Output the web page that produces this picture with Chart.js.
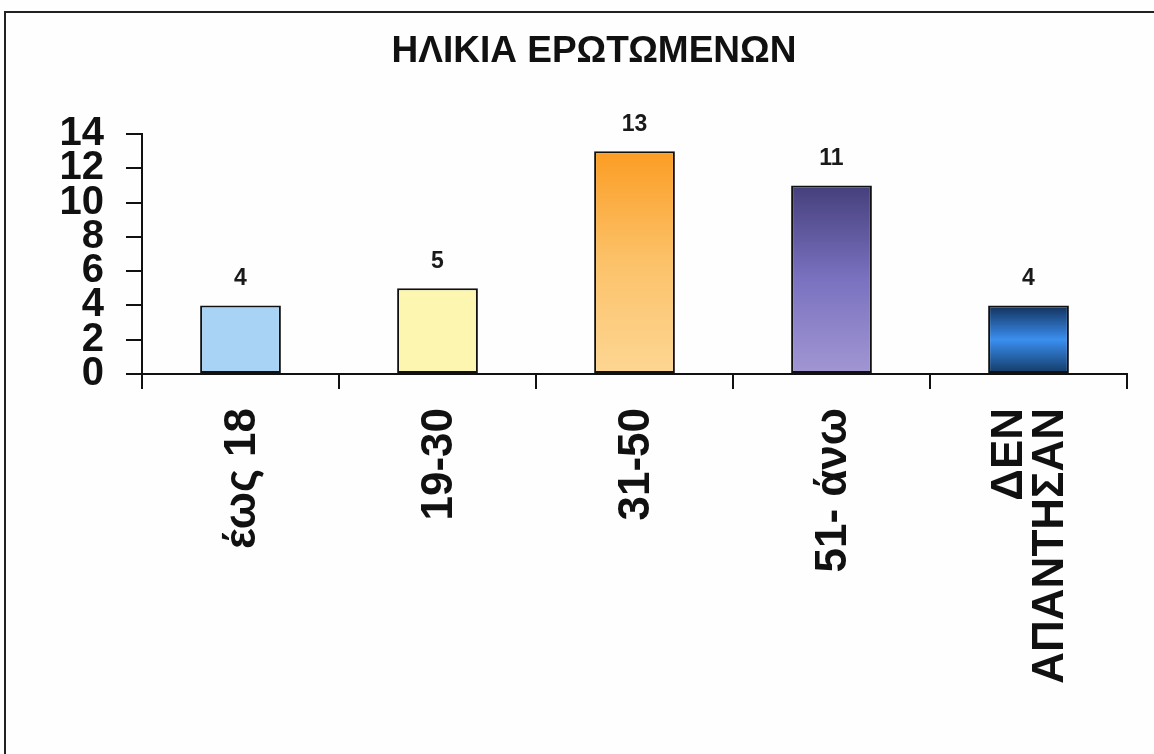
<!DOCTYPE html>
<html>
<head>
<meta charset="utf-8">
<script src="https://cdn.jsdelivr.net/npm/chart.js@4"></script>
<style>
  html, body { margin: 0; padding: 0; background: #fdfefd; overflow: hidden; }
  #wrap { position: absolute; left: 0; top: 0; width: 1154px; height: 754px; }
</style>
</head>
<body>
<div id="wrap"><canvas id="ageChart" width="1154" height="754"></canvas></div>
<script>
// ── Data ─────────────────────────────────────────
const categories = ['έως 18', '19-30', '31-50', '51- άνω', ['ΔΕΝ', 'ΑΠΑΝΤΗΣΑΝ']];
const answers = [4, 5, 13, 11, 4];
const yTicks = [0, 2, 4, 6, 8, 10, 12, 14];
const chartTitle = 'ΗΛΙΚΙΑ ΕΡΩΤΩΜΕΝΩΝ';

const FONT = '"Liberation Sans", Arial, sans-serif';

// gradient stops per bar, top -> bottom
const barStops = [
    ['#a9d3f4', '#a9d3f4'],
    ['#fcf6b0', '#fcf6b0'],
    ['#fb9d24', '#fcc26a', '#fdd693'],
    ['#463f7c', '#7a72c0', '#a296d2'],
    ['#12305a', '#3a8ff0', '#123862']
];

function barFill(ctx) {
    const chart = ctx.chart;
    const y = chart.scales.y;
    const stops = barStops[ctx.dataIndex] || barStops[0];
    if (!y) return stops[0];
    const top = y.getPixelForValue(answers[ctx.dataIndex]);
    const bottom = y.getPixelForValue(0);
    if (!isFinite(top) || !isFinite(bottom) || top === bottom) return stops[0];
    const g = chart.ctx.createLinearGradient(0, top, 0, bottom);
    stops.forEach((c, i) => g.addColorStop(i / (stops.length - 1), c));
    return g;
}

// ── Frame, title, value labels, rotated category labels ──
const decorations = {
    id: 'decorations',
    beforeDraw(chart) {
        const c = chart.ctx;
        c.save();
        c.strokeStyle = '#222';
        c.lineWidth = 2;
        c.beginPath();
        c.moveTo(1154, 12);
        c.lineTo(5, 12);
        c.lineTo(5, 754);
        c.stroke();

        c.font = 'bold 37px ' + FONT;
        c.fillStyle = '#111';
        c.textAlign = 'center';
        c.textBaseline = 'middle';
        c.fillText(chartTitle, 594, 52);
        c.restore();
    },
    afterDatasetsDraw(chart) {
        const c = chart.ctx;
        const meta = chart.getDatasetMeta(0);
        c.save();
        c.font = 'bold 23px ' + FONT;
        c.fillStyle = '#1a1a1a';
        c.textAlign = 'center';
        c.textBaseline = 'alphabetic';
        meta.data.forEach((bar, i) => {
            c.fillText(String(answers[i]), bar.x, bar.y - 20);
        });

        // category labels, rotated to read bottom-to-top
        const xs = chart.scales.x;
        const lineGap = 41;
        c.font = 'bold 44px ' + FONT;
        c.fillStyle = '#111';
        c.textAlign = 'right';
        c.textBaseline = 'middle';
        categories.forEach((label, i) => {
            const lines = Array.isArray(label) ? label : [label];
            c.save();
            c.translate(xs.getPixelForTick(i), xs.top + 34);
            c.rotate(-Math.PI / 2);
            lines.forEach((ln, j) => {
                c.fillText(ln, 0, (j - (lines.length - 1) / 2) * lineGap + 2);
            });
            c.restore();
        });
        c.restore();
    }
};

new Chart(document.getElementById('ageChart'), {
    type: 'bar',
    data: {
        labels: categories,
        datasets: [{
            data: answers,
            backgroundColor: barFill,
            borderColor: '#111',
            borderWidth: 2,
            borderSkipped: false,
            barPercentage: 0.41,
            categoryPercentage: 1
        }]
    },
    options: {
        responsive: false,
        animation: false,
        layout: { padding: { left: 0, right: 27, top: 134, bottom: 0 } },
        plugins: {
            legend: { display: false },
            tooltip: { enabled: false },
            title: { display: false }
        },
        scales: {
            x: {
                grid: { display: true, drawOnChartArea: false, drawTicks: true, tickLength: 15, color: '#111', lineWidth: 2 },
                border: { display: true, color: '#111', width: 2 },
                ticks: { display: false },
                afterFit(scale) { scale.height = 380; }
            },
            y: {
                min: 0,
                max: 14,
                afterBuildTicks(scale) { scale.ticks = yTicks.map(v => ({ value: v })); },
                grid: { display: true, drawOnChartArea: false, drawTicks: true, tickLength: 16, color: '#111', lineWidth: 2 },
                border: { display: true, color: '#111', width: 2 },
                ticks: {
                    color: '#111',
                    autoSkip: false,
                    padding: 22,
                    font: { family: FONT, size: 40, weight: 'bold', lineHeight: 0.85 }
                },
                afterFit(scale) { scale.width = 142; }
            }
        }
    },
    plugins: [decorations]
});
</script>
</body>
</html>
